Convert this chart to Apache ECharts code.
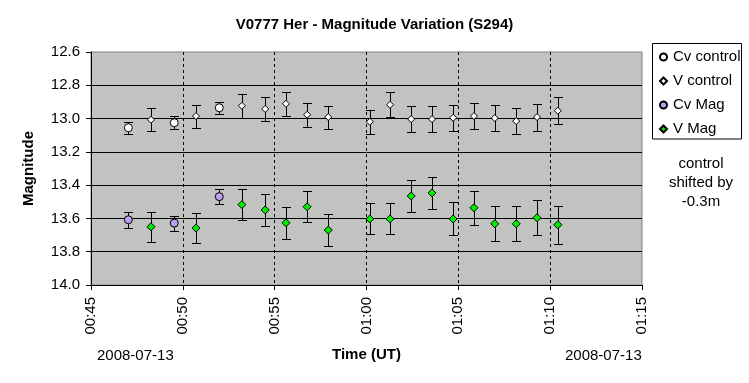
<!DOCTYPE html>
<html>
<head>
<meta charset="utf-8">
<script src="https://cdn.jsdelivr.net/npm/echarts@6/dist/echarts.min.js"></script>
<style>html,body{margin:0;padding:0;background:#fff}#c{width:749px;height:383px}</style>
</head>
<body>
<div id="c"></div>
<script>
// ---- data ----
var cvTimes = ['00:47:02', '00:49:32', '00:51:59'];
var vTimes = ['00:48:16', '00:50:43', '00:53:13', '00:54:29', '00:55:37', '00:56:46', '00:57:55',
  '01:00:11', '01:01:17', '01:02:26', '01:03:34', '01:04:43', '01:05:51', '01:06:59',
  '01:08:09', '01:09:17', '01:10:25'];
var cvControl = [13.055, 13.025, 12.935];
var cvControlErr = [0.036, 0.038, 0.035];
var vControl = [13.007, 12.985, 12.923, 12.942, 12.911, 12.977, 12.991, 13.019, 12.917, 13.003,
  13.003, 12.995, 12.985, 12.997, 13.015, 12.991, 12.953];
var vControlErr = [0.068, 0.069, 0.072, 0.074, 0.072, 0.072, 0.069, 0.072, 0.076, 0.078,
  0.078, 0.077, 0.078, 0.078, 0.080, 0.081, 0.081];
var cvMag = [13.608, 13.628, 13.469];
var cvMagErr = [0.047, 0.045, 0.044];
var vMag = [13.650, 13.658, 13.517, 13.549, 13.626, 13.530, 13.670, 13.603, 13.603, 13.465,
  13.447, 13.603, 13.536, 13.632, 13.632, 13.596, 13.638];
var vMagErr = [0.089, 0.089, 0.092, 0.095, 0.096, 0.092, 0.096, 0.093, 0.093, 0.094,
  0.096, 0.099, 0.101, 0.105, 0.105, 0.105, 0.114];
var xTickLabels = ['00:45', '00:50', '00:55', '01:00', '01:05', '01:10', '01:15'];
var seriesNames = ['Cv control', 'V control', 'Cv Mag', 'V Mag'];

// ---- helpers ----
function toMin(s) { var p = s.split(':').map(Number); return p[0] * 60 + p[1] + p[2] / 60; }
function pts(times, vals) { return vals.map(function (v, i) { return [toMin(times[i]), v]; }); }
function errs(times, vals, e) { return vals.map(function (v, i) { return [toMin(times[i]), v - e[i], v + e[i]]; }); }

var FONT = "'Liberation Sans', Arial, sans-serif";

function errSeries(data) {
  return {
    type: 'custom', silent: true, z: 2,
    renderItem: function (params, api) {
      var x = api.value(0);
      var a = api.coord([x, api.value(1)]);
      var b = api.coord([x, api.value(2)]);
      var cx = Math.round(a[0]) + 0.5;
      var y1 = Math.round(a[1]) + 0.5, y2 = Math.round(b[1]) + 0.5;
      var h = 4.5;
      var st = { stroke: '#000', lineWidth: 1 };
      return { type: 'group', children: [
        { type: 'line', shape: { x1: cx, y1: y1, x2: cx, y2: y2 }, style: st },
        { type: 'line', shape: { x1: cx - h, y1: y1, x2: cx + h, y2: y1 }, style: st },
        { type: 'line', shape: { x1: cx - h, y1: y2, x2: cx + h, y2: y2 }, style: st }
      ]};
    },
    encode: { x: 0, y: [1, 2] },
    data: data
  };
}
function scat(name, data, symbol, size, color) {
  return { name: name, type: 'scatter', z: 5, symbol: symbol, symbolSize: size, data: data,
    itemStyle: { color: color, borderColor: '#000', borderWidth: 1, opacity: 1 } };
}

var chart = echarts.init(document.getElementById('c'), null, { renderer: 'canvas' });
chart.setOption({
  animation: false,
  textStyle: { fontFamily: FONT },
  title: { text: 'V0777 Her - Magnitude Variation (S294)', left: 'center', top: 12,
    textStyle: { fontSize: 15, fontWeight: 'bold', color: '#000', fontFamily: FONT } },
  grid: { left: 91, right: 107, top: 52, bottom: 98, show: true, backgroundColor: '#c0c3c0',
    borderColor: '#808080', borderWidth: 1 },
  legend: {
    data: seriesNames, orient: 'vertical', left: 659, top: 49.5, padding: 0,
    itemWidth: 7, itemHeight: 7, itemGap: 9,
    textStyle: { fontSize: 15, color: '#000', fontFamily: FONT, padding: [0, 0, 0, 1] }
  },
  graphic: [
    { type: 'rect', shape: { x: 652.5, y: 43.5, width: 89, height: 95.5 },
      style: { fill: 'none', stroke: '#000', lineWidth: 1 }, z: 0 },
    { type: 'text', x: 701, y: 154, style: { text: 'control\nshifted by\n-0.3m', font: '15px ' + FONT,
      textAlign: 'center', lineHeight: 19, fill: '#000' } },
    { type: 'text', x: 97, y: 348, style: { text: '2008-07-13', font: '15px ' + FONT, fill: '#000' } },
    { type: 'text', x: 565, y: 348, style: { text: '2008-07-13', font: '15px ' + FONT, fill: '#000' } }
  ],
  xAxis: {
    type: 'value', min: 45, max: 75, interval: 5,
    name: 'Time (UT)', nameLocation: 'middle', nameGap: 62,
    nameTextStyle: { fontSize: 15, fontWeight: 'bold', color: '#000', fontFamily: FONT },
    axisLine: { lineStyle: { color: '#000', width: 1 } },
    axisTick: { show: true, length: 5, lineStyle: { color: '#000' } },
    axisLabel: { rotate: 90, margin: 12, fontSize: 15, color: '#000', fontFamily: FONT,
      formatter: function (v) { return xTickLabels[Math.round((v - 45) / 5)]; } },
    splitLine: { show: true, showMinLine: false, showMaxLine: false,
      lineStyle: { color: '#000', type: [3, 3], width: 1 } }
  },
  yAxis: {
    type: 'value', inverse: true, min: 12.6, max: 14.0, interval: 0.2,
    name: 'Magnitude', nameLocation: 'middle', nameGap: 55, nameRotate: 90,
    nameTextStyle: { fontSize: 15, fontWeight: 'bold', color: '#000', fontFamily: FONT },
    axisLine: { show: true, lineStyle: { color: '#000', width: 1 } },
    axisTick: { show: true, length: 5, lineStyle: { color: '#000' } },
    axisLabel: { margin: 11, fontSize: 15, color: '#000', fontFamily: FONT,
      formatter: function (v) { return v.toFixed(1); } },
    splitLine: { show: true, showMinLine: false, showMaxLine: false,
      lineStyle: { color: '#000', width: 1 } }
  },
  series: [
    errSeries(errs(cvTimes, cvControl, cvControlErr)),
    errSeries(errs(vTimes, vControl, vControlErr)),
    errSeries(errs(cvTimes, cvMag, cvMagErr)),
    errSeries(errs(vTimes, vMag, vMagErr)),
    scat('Cv control', pts(cvTimes, cvControl), 'circle', 8, '#ffffff'),
    scat('V control', pts(vTimes, vControl), 'diamond', 7, '#ffffff'),
    scat('Cv Mag', pts(cvTimes, cvMag), 'circle', 8, '#bba0ee'),
    scat('V Mag', pts(vTimes, vMag), 'diamond', 8, '#00ee00')
  ]
});
</script>
</body>
</html>
